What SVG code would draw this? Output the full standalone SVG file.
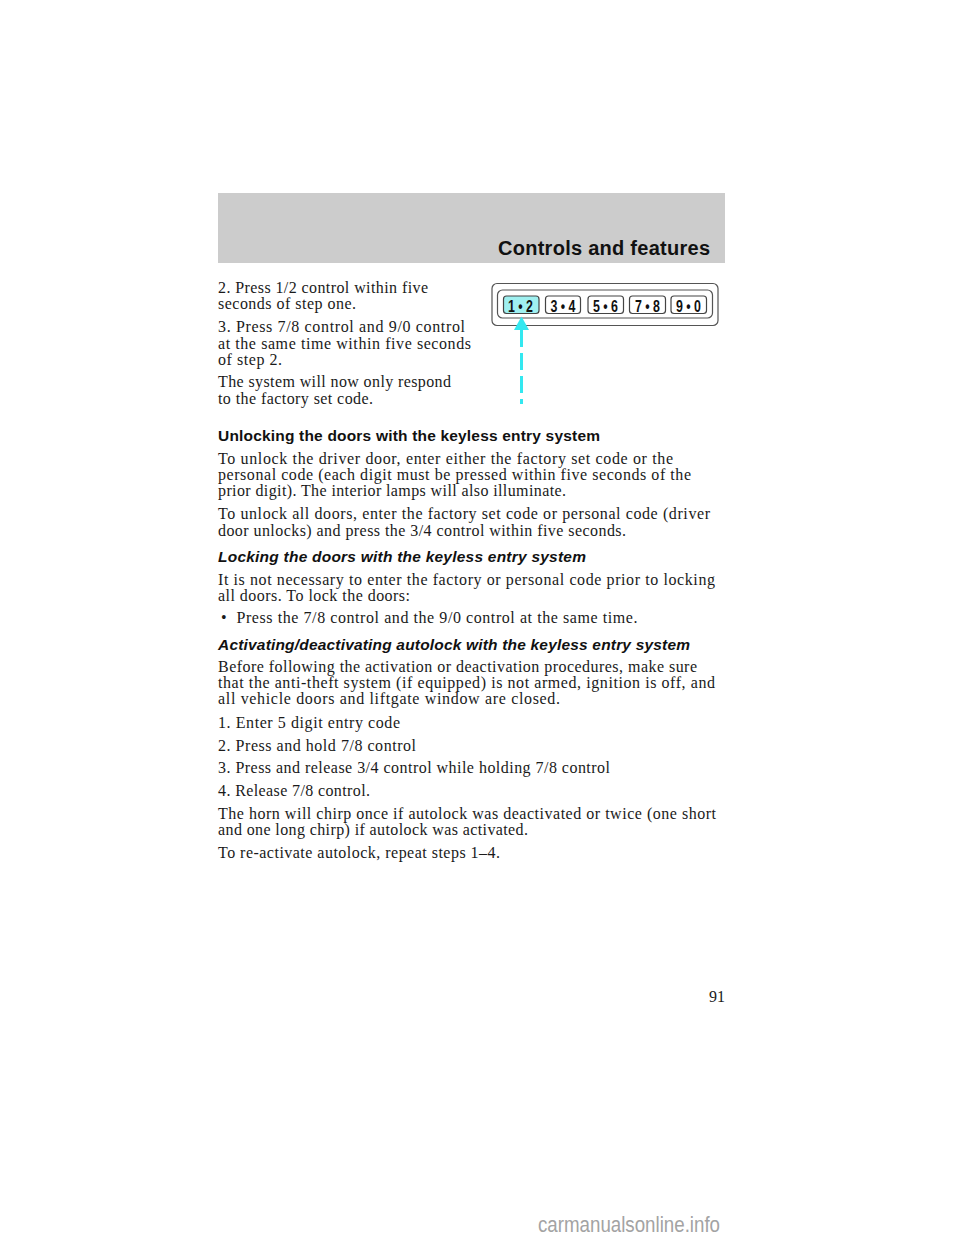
<svg xmlns="http://www.w3.org/2000/svg" width="960" height="1242" viewBox="0 0 960 1242">
<style>
.b{font-family:"Liberation Serif","Times New Roman",serif;font-size:16px;fill:#1a1a1a}
.h{font-family:"Liberation Sans",Arial,sans-serif;font-size:15.5px;font-weight:bold;fill:#111}
.hi{font-family:"Liberation Sans",Arial,sans-serif;font-size:15.5px;font-weight:bold;font-style:italic;fill:#111}
.key{fill:#fff;stroke:#444;stroke-width:1.2}
.kt{font-family:"Liberation Sans",Arial,sans-serif;font-size:16px;fill:#111;font-weight:bold}
</style>
<rect width="960" height="1242" fill="#fff"/>
<g id="header">
<rect x="218" y="193" width="507" height="70" fill="#cccccc"/>
<text x="710" y="255" text-anchor="end" font-family="Liberation Sans,Arial,sans-serif" font-size="20" font-weight="bold" fill="#111" textLength="212">Controls and features</text>
</g>
<g id="keypad">
<rect x="492" y="283.5" width="226" height="42" rx="5" fill="#fff" stroke="#555" stroke-width="1.2"/>
<rect x="497.5" y="290" width="215" height="28" rx="5" fill="#fff" stroke="#555" stroke-width="1.2"/>
<rect class="key" x="503.5" y="296" width="35.5" height="17.5" rx="3" style="fill:#9ff0f0"/>
<rect class="key" x="545.5" y="296" width="35" height="17.5" rx="3"/>
<rect class="key" x="588" y="296" width="35.5" height="17.5" rx="3"/>
<rect class="key" x="629.5" y="296" width="36" height="17.5" rx="3"/>
<rect class="key" x="671" y="296" width="35.5" height="17.5" rx="3"/>
<text class="kt" x="508" y="311.5" textLength="25" lengthAdjust="spacingAndGlyphs">1 • 2</text>
<text class="kt" x="550.5" y="311.5" textLength="25" lengthAdjust="spacingAndGlyphs">3 • 4</text>
<text class="kt" x="593" y="311.5" textLength="25" lengthAdjust="spacingAndGlyphs">5 • 6</text>
<text class="kt" x="635" y="311.5" textLength="25" lengthAdjust="spacingAndGlyphs">7 • 8</text>
<text class="kt" x="676" y="311.5" textLength="25" lengthAdjust="spacingAndGlyphs">9 • 0</text>
</g>
<g id="connectors">
<polygon points="521.5,316.5 514,330 529,330" fill="#33e8f0"/>
<line x1="521.5" y1="330" x2="521.5" y2="404" stroke="#33e8f0" stroke-width="3" stroke-dasharray="17 6"/>
</g>
<g id="text">
<text class="b" x="218" y="293.3" textLength="210">2. Press 1/2 control within five</text>
<text class="b" x="218" y="309.3" textLength="138">seconds of step one.</text>
<text class="b" x="218" y="332.3" textLength="247">3. Press 7/8 control and 9/0 control</text>
<text class="b" x="218" y="348.5" textLength="253">at the same time within five seconds</text>
<text class="b" x="218" y="365" textLength="64">of step 2.</text>
<text class="b" x="218" y="387.3" textLength="233">The system will now only respond</text>
<text class="b" x="218" y="403.5" textLength="155">to the factory set code.</text>

<text class="h" x="218" y="441" textLength="382">Unlocking the doors with the keyless entry system</text>
<text class="b" x="218" y="463.5" textLength="455">To unlock the driver door, enter either the factory set code or the</text>
<text class="b" x="218" y="480" textLength="473">personal code (each digit must be pressed within five seconds of the</text>
<text class="b" x="218" y="496.3" textLength="348">prior digit). The interior lamps will also illuminate.</text>
<text class="b" x="218" y="519.3" textLength="492">To unlock all doors, enter the factory set code or personal code (driver</text>
<text class="b" x="218" y="535.7" textLength="408">door unlocks) and press the 3/4 control within five seconds.</text>

<text class="hi" x="218" y="562.3" textLength="368">Locking the doors with the keyless entry system</text>
<text class="b" x="218" y="584.5" textLength="497">It is not necessary to enter the factory or personal code prior to locking</text>
<text class="b" x="218" y="600.8" textLength="192">all doors. To lock the doors:</text>
<text class="b" x="221" y="623.3">•</text>
<text class="b" x="236.5" y="623.3" textLength="401">Press the 7/8 control and the 9/0 control at the same time.</text>

<text class="hi" x="218" y="649.5" textLength="472">Activating/deactivating autolock with the keyless entry system</text>
<text class="b" x="218" y="671.8" textLength="479">Before following the activation or deactivation procedures, make sure</text>
<text class="b" x="218" y="688" textLength="497">that the anti-theft system (if equipped) is not armed, ignition is off, and</text>
<text class="b" x="218" y="704.4" textLength="342">all vehicle doors and liftgate window are closed.</text>
<text class="b" x="218" y="728.3" textLength="182">1. Enter 5 digit entry code</text>
<text class="b" x="218" y="750.8" textLength="198">2. Press and hold 7/8 control</text>
<text class="b" x="218" y="773.4" textLength="392">3. Press and release 3/4 control while holding 7/8 control</text>
<text class="b" x="218" y="796" textLength="152">4. Release 7/8 control.</text>
<text class="b" x="218" y="819.3" textLength="498">The horn will chirp once if autolock was deactivated or twice (one short</text>
<text class="b" x="218" y="835.3" textLength="310">and one long chirp) if autolock was activated.</text>
<text class="b" x="218" y="858.3" textLength="282">To re-activate autolock, repeat steps 1–4.</text>

<text class="b" x="725" y="1002" text-anchor="end">91</text>
<text x="720" y="1232" text-anchor="end" font-family="Liberation Sans,Arial,sans-serif" font-size="22" fill="#a3a3a3" textLength="182" lengthAdjust="spacingAndGlyphs">carmanualsonline.info</text>
</g>
</svg>
